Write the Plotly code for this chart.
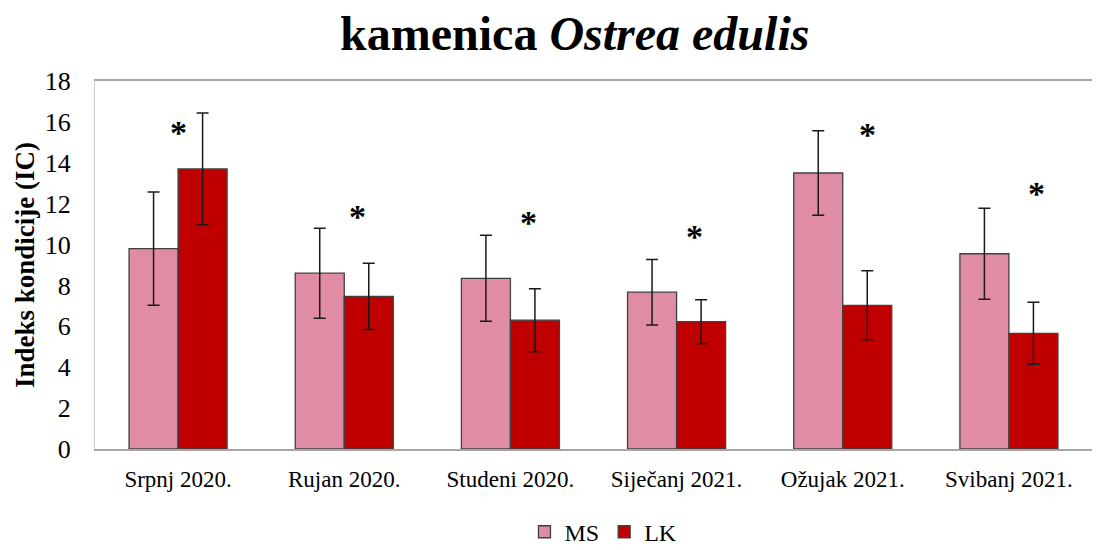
import plotly.graph_objects as go

categories = ["Srpnj 2020.", "Rujan 2020.", "Studeni 2020.", "Siječanj 2021.", "Ožujak 2021.", "Svibanj 2021."]
ms_values = [9.8, 8.6, 8.35, 7.67, 13.5, 9.55]
ms_errors = [2.77, 2.2, 2.1, 1.6, 2.07, 2.23]
lk_values = [13.7, 7.47, 6.3, 6.23, 7.03, 5.66]
lk_errors = [2.73, 1.62, 1.54, 1.07, 1.69, 1.52]
star_y = [15.77, 11.69, 11.37, 10.71, 15.66, 12.8]
star_xshift = [0, 13, 18, 18, 25, 28]
y_ticks = [0, 2, 4, 6, 8, 10, 12, 14, 16, 18]

serif = "Liberation Serif, Times New Roman, serif"

fig = go.Figure()
fig.add_trace(go.Bar(
    x=categories, y=ms_values, name="MS",
    marker=dict(color="#E08CA5", line=dict(color="#404040", width=1.3)),
    error_y=dict(type="data", array=ms_errors, visible=True, color="#1a1a1a", thickness=1.5, width=6),
))
fig.add_trace(go.Bar(
    x=categories, y=lk_values, name="LK",
    marker=dict(color="#C00000", line=dict(color="#404040", width=1.3)),
    error_y=dict(type="data", array=lk_errors, visible=True, color="#1a1a1a", thickness=1.5, width=6),
))

for c, sy, sx in zip(categories, star_y, star_xshift):
    fig.add_annotation(x=c, y=sy, xref="x", yref="y", text="<b>*</b>", showarrow=False,
                       xshift=sx, yshift=-6, font=dict(family=serif, size=34, color="black"))

fig.add_annotation(x=0, y=0.5, xref="paper", yref="paper", text="<b>Indeks kondicije (IC)</b>",
                   textangle=-90, showarrow=False, xanchor="center", yanchor="middle", xshift=-70,
                   font=dict(family=serif, size=27, color="black"))

fig.update_layout(
    width=1092, height=542,
    paper_bgcolor="white", plot_bgcolor="white",
    margin=dict(l=87, r=8, t=73, b=101, autoexpand=False),
    barmode="group", bargap=0.41, bargroupgap=0,
    title=dict(text="<b>kamenica <i>Ostrea edulis</i></b>", x=0.519, xanchor="center",
               y=0.953, yanchor="middle", font=dict(family=serif, size=48, color="black")),
    font=dict(family=serif, size=23, color="black"),
    legend=dict(orientation="h", x=0.51, xanchor="center", y=-0.226, yanchor="middle",
                font=dict(family=serif, size=24, color="black"), itemwidth=30, traceorder="normal"),
    showlegend=True,
)
fig.update_xaxes(showline=True, linecolor="#a6a6a6", linewidth=1.5, mirror=True, automargin=False,
                 tickfont=dict(family=serif, size=23, color="black"), ticks="", ticklabelstandoff=9)
fig.update_yaxes(range=[0, 18], tickvals=y_ticks, showgrid=False, zeroline=False, automargin=False,
                 showline=True, linecolor="#d0d0d0", linewidth=1, mirror=True,
                 tickfont=dict(family=serif, size=26, color="black"), ticks="", ticklabelstandoff=18)

fig.write_html("out.html")
